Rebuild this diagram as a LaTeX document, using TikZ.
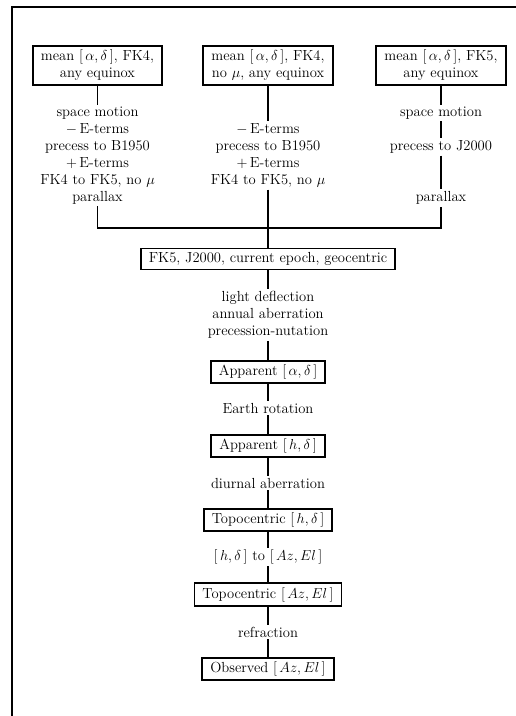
\documentclass[tikz,border=0pt]{standalone}
\tikzset{
  stagebox/.style={draw,line width=1.8pt,align=center,inner xsep=8pt,inner ysep=4pt},
  oplabel/.style={align=center,inner sep=2pt},
  link/.style={line width=1.8pt}
}
\begin{document}
\begin{tikzpicture}[x=1pt,y=-1pt,font=\fontsize{14.6}{17}\selectfont]
    \useasboundingbox (0,0) rectangle (516,716);
    %% Frame
    \draw[line width=1.5pt] (12,716) -- (12,7) -- (516,7);
    %% Catalogue boxes
    \node[stagebox] (fkfour) at (97.5,65.5) {mean $[\,\alpha,\delta\,]$, FK4,\\ any equinox};
    \node[stagebox] (fkfournomu) at (268,65.5) {mean $[\,\alpha,\delta\,]$, FK4,\\ no $\mu$, any equinox};
    \node[stagebox] (fkfivecat) at (441,65.5) {mean $[\,\alpha,\delta\,]$, FK5,\\ any equinox};
    %% Operations from the catalogues
    \node[oplabel] (leftops) at (97.5,155.5) {space motion\\ $-$\,E-terms\\ precess to B1950\\ $+$\,E-terms\\ FK4 to FK5, no $\mu$\\ parallax};
    \node[oplabel] (midops) at (268,155.5) {$-$\,E-terms\\ precess to B1950\\ $+$\,E-terms\\ FK4 to FK5, no $\mu$};
    \node[oplabel] (spacer) at (441,113) {space motion};
    \node[oplabel] (precr) at (441,147) {precess to J2000};
    \node[oplabel] (plxr) at (441,198) {parallax};
    \coordinate (jleft) at (97.5,228);
    \coordinate (jright) at (441,228);
    %% Common frame
    \node[stagebox] (fkfive) at (268,259) {FK5, J2000, current epoch, geocentric};
    \node[oplabel] (lowops) at (268,315) {light deflection\\ annual aberration\\ precession-nutation};
    \node[stagebox] (appradec) at (268,372) {Apparent $[\,\alpha,\delta\,]$};
    \node[oplabel] (rotop) at (268,408) {Earth rotation};
    \node[stagebox] (apphadec) at (268,446) {Apparent $[\,h,\delta\,]$};
    \node[oplabel] (diurop) at (268,483) {diurnal aberration};
    \node[stagebox] (topohadec) at (268,520) {Topocentric $[\,h,\delta\,]$};
    \node[oplabel] (convop) at (268,557) {$[\,h,\delta\,]$ to $[\,Az,El\,]$};
    \node[stagebox] (topoazel) at (268,594.5) {Topocentric $[\,Az,El\,]$};
    \node[oplabel] (refrop) at (268,632) {refraction};
    \node[stagebox] (obsazel) at (268,669) {Observed $[\,Az,El\,]$};
    %% Connectors
    \draw[link] (fkfour) -- (leftops);
    \draw[link] (fkfournomu) -- (midops);
    \draw[link] (fkfivecat) -- (spacer);
    \draw[link] (spacer) -- (precr);
    \draw[link] (precr) -- (plxr);
    \draw[link] (leftops) -- (jleft) -- (jright) -- (plxr);
    \foreach \from/\to in {midops/fkfive, fkfive/lowops, lowops/appradec, appradec/rotop,
      rotop/apphadec, apphadec/diurop, diurop/topohadec, topohadec/convop,
      convop/topoazel, topoazel/refrop, refrop/obsazel}
      \draw[link] (\from) -- (\to);
\end{tikzpicture}
\end{document}
